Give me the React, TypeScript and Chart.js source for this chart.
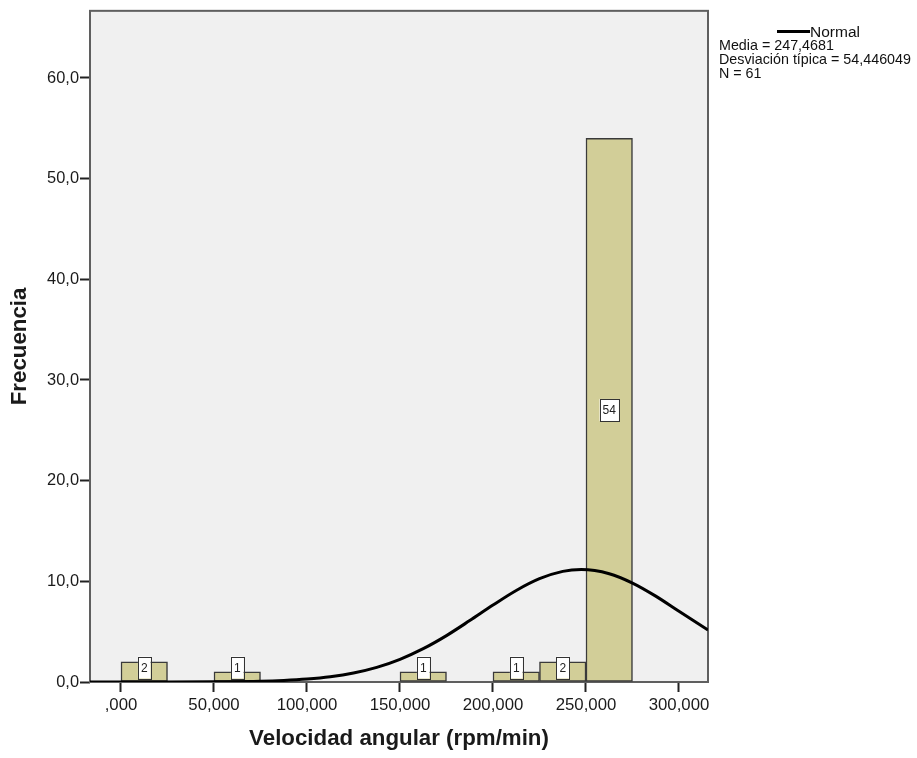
import React, { useEffect, useRef } from "react";
import { Chart, registerables } from "chart.js";

Chart.register(...registerables);

// Histogram bins (bin width 25), only non-empty bins are drawn
const binCenters = [12.5, 62.5, 162.5, 212.5, 237.5, 262.5];
const binCounts = [2, 1, 1, 1, 2, 54];

// Fitted normal curve
const curveX = [-16.7, 0, 25, 50, 75, 87.5, 100, 112.5, 125, 137.5, 150, 162.5, 175, 187.5, 200, 212.5, 225, 237.5, 247.5, 262.5, 275, 287.5, 300, 315.6];
const curveY = [0, 0, 0, 0.02, 0.07, 0.15, 0.29, 0.52, 0.89, 1.45, 2.25, 3.31, 4.61, 6.1, 7.64, 9.09, 10.26, 10.99, 11.17, 10.76, 9.83, 8.53, 7.02, 5.16];

const xTickValues = [0, 50, 100, 150, 200, 250, 300];
const xTickLabels = [",000", "50,000", "100,000", "150,000", "200,000", "250,000", "300,000"];
const yTickValues = [0, 10, 20, 30, 40, 50, 60];
const yTickLabels = ["0,0", "10,0", "20,0", "30,0", "40,0", "50,0", "60,0"];

const legendLines = ["Media = 247,4681", "Desviación típica = 54,446049", "N = 61"];
const legendTitle = "Normal";

const FONT = "'Liberation Sans', Arial, sans-serif";

export default function App() {
  const ref = useRef<HTMLCanvasElement | null>(null);

  useEffect(() => {
    if (!ref.current) return;

    const bgPlugin = {
      id: "bgframe",
      beforeDraw(chart: any) {
        const { ctx, chartArea: a } = chart;
        ctx.save();
        ctx.fillStyle = "#F0F0F0";
        ctx.fillRect(a.left, a.top, a.right - a.left, a.bottom - a.top);
        ctx.restore();
      },
      beforeDatasetsDraw(chart: any) {
        const { ctx, chartArea: a } = chart;
        ctx.save();
        ctx.strokeStyle = "#5f5f5f";
        ctx.lineWidth = 2;
        ctx.strokeRect(a.left, a.top, a.right - a.left, a.bottom - a.top);
        ctx.restore();
      },
      afterDatasetsDraw(chart: any) {
        const { ctx } = chart;
        const meta = chart.getDatasetMeta(1);
        ctx.save();
        ctx.font = `12px ${FONT}`;
        ctx.textAlign = "center";
        ctx.textBaseline = "middle";
        meta.data.forEach((el: any, i: number) => {
          const txt = String(binCounts[i]);
          const w = ctx.measureText(txt).width + 6;
          const h = 22;
          const cy = Math.min((el.y + el.base) / 2, el.base - 14);
          ctx.fillStyle = "#ffffff";
          ctx.fillRect(el.x - w / 2, cy - h / 2, w, h);
          ctx.strokeStyle = "#333333";
          ctx.lineWidth = 1;
          ctx.strokeRect(Math.round(el.x - w / 2) + 0.5, Math.round(cy - h / 2) + 0.5, Math.round(w), h);
          ctx.fillStyle = "#222222";
          ctx.fillText(txt, el.x, cy + 1);
        });
        ctx.restore();
      },
      afterDraw(chart: any) {
        const { ctx } = chart;
        ctx.save();
        ctx.strokeStyle = "#000";
        ctx.lineWidth = 3;
        ctx.beginPath();
        ctx.moveTo(777, 31.5);
        ctx.lineTo(810, 31.5);
        ctx.stroke();
        ctx.fillStyle = "#111";
        ctx.textBaseline = "middle";
        ctx.textAlign = "left";
        ctx.font = `15.5px ${FONT}`;
        ctx.fillText(legendTitle, 810, 33);
        ctx.font = `14.3px ${FONT}`;
        const ys = [46, 60, 74];
        legendLines.forEach((t, i) => ctx.fillText(t, 719, ys[i]));
        ctx.restore();
      },
    };

    const chart = new Chart(ref.current, {
      type: "bar",
      data: {
        datasets: [
          {
            type: "line",
            data: curveX.map((x, i) => ({ x, y: curveY[i] })),
            borderColor: "#000",
            borderWidth: 3,
            pointRadius: 0,
            cubicInterpolationMode: "monotone",
            fill: false,
            order: 1,
          } as any,
          {
            type: "bar",
            data: binCenters.map((x, i) => ({ x, y: binCounts[i] })),
            backgroundColor: "#D2CE98",
            borderColor: "#3a3a3a",
            borderWidth: 1.5,
            borderSkipped: false,
            barPercentage: 1,
            categoryPercentage: 1,
            order: 2,
          } as any,
        ],
      },
      options: {
        responsive: false,
        animation: false,
        events: [],
        layout: { padding: { top: 10, right: 209, left: 0, bottom: 0 } },
        plugins: { legend: { display: false }, tooltip: { enabled: false } },
        scales: {
          x: {
            type: "linear",
            min: -16.667,
            max: 315.6,
            offset: false,
            grid: { display: true, drawOnChartArea: false, drawTicks: true, tickLength: 10, tickWidth: 2, tickColor: "#222", offset: false },
            border: { display: false },
            afterBuildTicks: (s: any) => {
              s.ticks = xTickValues.map((value) => ({ value }));
            },
            afterFit: (s: any) => {
              s.height = 76;
            },
            ticks: {
              padding: 3,
              color: "#1a1a1a",
              font: { family: FONT, size: 16.8 },
              maxRotation: 0,
              autoSkip: false,
              callback: (_v: any, i: number) => xTickLabels[i],
            },
            title: {
              display: true,
              text: "Velocidad angular (rpm/min)",
              color: "#1a1a1a",
              font: { family: FONT, size: 22.3, weight: "bold", lineHeight: 1 },
              padding: { top: 0, bottom: 8 },
            },
          },
          y: {
            type: "linear",
            min: 0,
            max: 66.67,
            grid: { display: true, drawOnChartArea: false, drawTicks: true, tickLength: 10, tickWidth: 2, tickColor: "#222" },
            border: { display: false },
            afterBuildTicks: (s: any) => {
              s.ticks = yTickValues.map((value) => ({ value }));
            },
            afterFit: (s: any) => {
              s.width = 90;
            },
            ticks: {
              padding: 1,
              color: "#1a1a1a",
              font: { family: FONT, size: 16.4 },
              autoSkip: false,
              callback: (_v: any, i: number) => yTickLabels[i],
            },
            title: {
              display: true,
              text: "Frecuencia",
              color: "#1a1a1a",
              font: { family: FONT, size: 22.3, weight: "bold", lineHeight: 1 },
              padding: { top: 9, bottom: 0 },
            },
          },
        },
      },
      plugins: [bgPlugin],
    });

    return () => chart.destroy();
  }, []);

  return (
    <div style={{ position: "absolute", left: 0, top: 0, width: 917, height: 758, background: "#fff" }}>
      <canvas ref={ref} width={917} height={758} style={{ display: "block" }} />
    </div>
  );
}
